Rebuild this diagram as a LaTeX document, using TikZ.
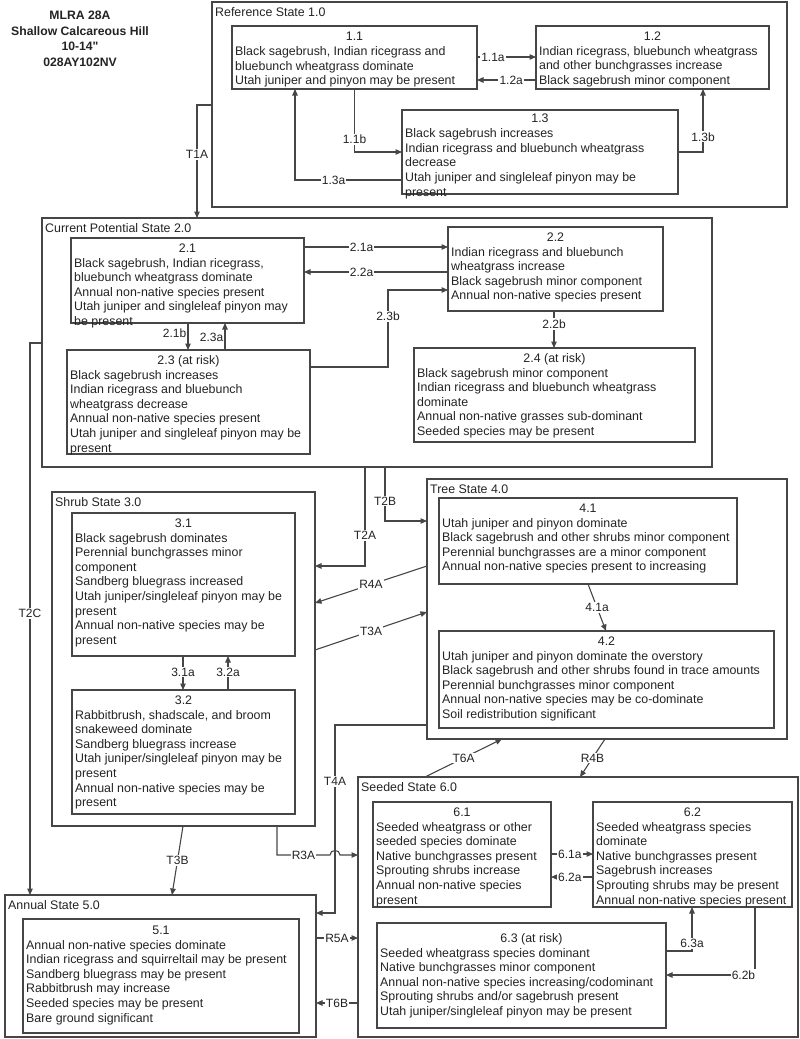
\documentclass[tikz,border=0pt]{standalone}
\usepackage{fontspec}
\setmainfont{Liberation Sans}
\newfontfamily\titlefont{Liberation Sans}
\usetikzlibrary{arrows.meta,calc}
\definecolor{ln}{RGB}{70,70,70}
\definecolor{tx}{RGB}{35,35,35}
\tikzset{
 box/.style={draw=ln, line width=1.1pt, inner sep=0pt, outer sep=0pt, rectangle},
 hdr/.style={inner sep=0pt, text=tx, font=\fontsize{12.4}{14.6}\selectfont},
 bodytxt/.style={inner sep=0pt, text=tx, align=left, font=\fontsize{12.4}{14.6}\selectfont},
 statelbl/.style={inner sep=0pt, text=tx, anchor=base west, font=\fontsize{12.4}{14.6}\selectfont},
 conn/.style={draw=ln, line width=1.1pt, -{Triangle[length=6.5pt,width=5.5pt]}},
 lab/.style={fill=white, inner sep=1.2pt, text=tx, font=\fontsize{12}{14}\selectfont},
 sidelab/.style={inner sep=1.2pt, text=tx, anchor=east, font=\fontsize{12}{14}\selectfont},
}
\newcommand\stbox[8][0]{%
  \node[box, anchor=north west, minimum width=#5-#3, minimum height=#6-#4] (#2) at (#3,#4) {};
  \node[hdr, anchor=base] (#2h) at ($(#2.north)+(0,14+#1)$) {#7};
  \node[bodytxt, anchor=north west] (#2t) at ($(#2.north west)+(3,20+#1)$) {#8};
}
\newcommand\stcont[6]{%
  \node[box, anchor=north west, minimum width=#4-#2, minimum height=#5-#3] (#1) at (#2,#3) {};
  \node[statelbl] (#1l) at ($(#1.north west)+(3,14.5)$) {#6};
}
\begin{document}
\begin{tikzpicture}[x=1pt,y=-1pt]
\useasboundingbox (0,0) rectangle (800,1039);

% title
\node[inner sep=0pt, anchor=north, align=center, text=tx, font=\titlefont\bfseries\fontsize{12.2}{15.5}\selectfont] (title) at (80,11)
 {MLRA 28A\\Shallow Calcareous Hill\\10-14"\\028AY102NV};

% state containers
\stcont{s1}{212}{2}{787}{207}{Reference State 1.0}
\stcont{s2}{42}{218}{712}{467}{Current Potential State 2.0}
\stcont{s3}{52}{492}{315}{826}{Shrub State 3.0}
\stcont{s4}{427}{479}{787}{739}{Tree State 4.0}
\stcont{s5}{5}{895}{316}{1037}{Annual State 5.0}
\stcont{s6}{358}{777}{798}{1037}{Seeded State 6.0}

% community phases
\stbox[0.5]{b11}{232}{26}{477}{89}{1.1}{Black sagebrush, Indian ricegrass and\\bluebunch wheatgrass dominate\\Utah juniper and pinyon may be present}
\stbox{b12}{536}{26}{769}{89}{1.2}{Indian ricegrass, bluebunch wheatgrass\\and other bunchgrasses increase\\Black sagebrush minor component}
\stbox[-1.5]{b13}{402}{110}{678}{194}{1.3}{Black sagebrush increases\\Indian ricegrass and bluebunch wheatgrass\\decrease\\Utah juniper and singleleaf pinyon may be\\present}

\stbox{b21}{71}{238}{304}{323}{2.1}{Black sagebrush, Indian ricegrass,\\bluebunch wheatgrass dominate\\Annual non-native species present\\Utah juniper and singleleaf pinyon may\\be present}
\stbox{b22}{448}{227}{663}{311}{2.2}{Indian ricegrass and bluebunch\\wheatgrass increase\\Black sagebrush minor component\\Annual non-native species present}
\stbox{b23}{67}{350}{310}{454}{2.3 (at risk)}{Black sagebrush increases\\Indian ricegrass and bluebunch\\wheatgrass decrease\\Annual non-native species present\\Utah juniper and singleleaf pinyon may be\\present}
\stbox{b24}{414}{348}{695}{442}{2.4 (at risk)}{Black sagebrush minor component\\Indian ricegrass and bluebunch wheatgrass\\dominate\\Annual non-native grasses sub-dominant\\Seeded species may be present}

\stbox{b31}{72}{513}{295}{656}{3.1}{Black sagebrush dominates\\Perennial bunchgrasses minor\\component\\Sandberg bluegrass increased\\Utah juniper/singleleaf pinyon may be\\present\\Annual non-native species may be\\present}
\stbox{b32}{72}{690}{295}{814}{3.2}{Rabbitbrush, shadscale, and broom\\snakeweed dominate\\Sandberg bluegrass increase\\Utah juniper/singleleaf pinyon may be\\present\\Annual non-native species may be\\present}

\stbox{b41}{439}{498}{737}{584}{4.1}{Utah juniper and pinyon dominate\\Black sagebrush and other shrubs minor component\\Perennial bunchgrasses are a minor component\\Annual non-native species present to increasing}
\stbox{b42}{439}{631}{774}{728}{4.2}{Utah juniper and pinyon dominate the overstory\\Black sagebrush and other shrubs found in trace amounts\\Perennial bunchgrasses minor component\\Annual non-native species may be co-dominate\\Soil redistribution significant}

\stbox[1]{b51}{23}{919}{299}{1033}{5.1}{Annual non-native species dominate\\Indian ricegrass and squirreltail may be present\\Sandberg bluegrass may be present\\Rabbitbrush may increase\\Seeded species may be present\\Bare ground significant}

\stbox{b61}{373}{802}{551}{907}{6.1}{Seeded wheatgrass or other\\seeded species dominate\\Native bunchgrasses present\\Sprouting shrubs increase\\Annual non-native species\\present}
\stbox{b62}{593}{802}{792}{907}{6.2}{Seeded wheatgrass species\\dominate\\Native bunchgrasses present\\Sagebrush increases\\Sprouting shrubs may be present\\Annual non-native species present}
\stbox[5]{b63}{377}{923}{666}{1028}{\hspace*{20pt}6.3 (at risk)}{Seeded wheatgrass species dominant\\Native bunchgrasses minor component\\Annual non-native species increasing/codominant\\Sprouting shrubs and/or sagebrush present\\Utah juniper/singleleaf pinyon may be present}

% ---- connectors: state 1
\draw[conn] (b11.east |- 0,57) -- node[lab,pos=0.27] (l11a) {1.1a} (b12.west |- 0,57);
\draw[conn] (b12.west |- 0,80) -- node[lab,pos=0.42] (l12a) {1.2a} (b11.east |- 0,80);
\draw[conn] (b11.south) -- node[lab,pos=0.8] (l11b) {1.1b} (b11.south |- 0,152) -- (b13.west |- 0,152);
\draw[conn] (b13.west |- 0,180) -- node[lab,pos=0.64] (l13a) {1.3a} (295,180) -- (b11.south -| 295,0);
\draw[conn] (b13.east |- 0,152) -- (703,152) -- node[lab,pos=0.24] (l13b) {1.3b} (b12.south -| 703,0);
\draw[conn] (s1.west |- 0,105) -- (197,105) -- node[lab,pos=0.44] (lT1A) {T1A} (s2.north -| 197,0);

% ---- state 2
\draw[conn] (b21.east |- 0,247) -- node[lab,pos=0.40] (l21a) {2.1a} (b22.west |- 0,247);
\draw[conn] (b22.west |- 0,272) -- node[lab,pos=0.60] (l22a) {2.2a} (b21.east |- 0,272);
\draw[conn] (b23.east |- 0,367) -- (388,367) -- node[lab,pos=0.66] (l23b) {2.3b} (388,290) -- (b22.west |- 0,290);
\draw[conn] (b21.south -| 188,0) -- node[sidelab,pos=0.37] (l21b) {2.1b} (b23.north -| 188,0);
\draw[conn] (b23.north -| 225,0) -- node[sidelab,pos=0.48] (l23a) {2.3a} (b21.south -| 225,0);
\draw[conn] (b22.south -| 554,0) -- node[lab,pos=0.35] (l22b) {2.2b} (b24.north -| 554,0);

% ---- transitions from 2
\draw[conn] (s2.west |- 0,343) -- (30,343) -- node[lab,pos=0.49] (lT2C) {T2C} (s5.north -| 30,0);
\draw[conn] (s2.south -| 365,0) -- node[lab,pos=0.69] (lT2A) {T2A} (365,566) -- (s3.east |- 0,566);
\draw[conn] (s2.south -| 385,0) -- node[lab,pos=0.63] (lT2B) {T2B} (385,521) -- (s4.west |- 0,521);

% ---- state 3 / 4
\draw[conn] (s4.west |- 0,566) -- node[lab,pos=0.5] (lR4A) {R4A} (s3.east |- 0,603);
\draw[conn] (s3.east |- 0,650) -- node[lab,pos=0.5] (lT3A) {T3A} (s4.west |- 0,612);
\draw[conn] (b31.south -| 183,0) -- node[lab,pos=0.47] (l31a) {3.1a} (b32.north -| 183,0);
\draw[conn] (b32.north -| 228,0) -- node[lab,pos=0.53] (l32a) {3.2a} (b31.south -| 228,0);
\draw[conn] (b41.south -| 588,0) -- node[lab,pos=0.5] (l41a) {4.1a} (b42.north -| 606,0);

% ---- into annual / seeded
\draw[conn] (s3.south -| 183,0) -- node[lab,pos=0.5] (lT3B) {T3B} (s5.north -| 172,0);
\draw[conn] (s4.west |- 0,725) -- (335,725) -- node[lab,pos=0.30] (lT4A) {T4A} (335,913) -- (s5.east |- 0,913);
\draw[conn] (s3.south -| 277,0) -- (277,855) -- node[lab,pos=0.5] (lR3A) {R3A} (330,855)
   .. controls (330,849) and (340,849) .. (340,855) -- (s6.west |- 0,855);
\draw[conn] (s5.east |- 0,938) -- node[lab,pos=0.5] (lR5A) {R5A} (s6.west |- 0,938);
\draw[conn] (s6.west |- 0,1003) -- node[lab,pos=0.5] (lT6B) {T6B} (s5.east |- 0,1003);
\draw[conn] (s6.north -| 425,0) -- node[lab,pos=0.5] (lT6A) {T6A} (s4.south -| 502,0);
\draw[conn] (s4.south -| 605,0) -- node[lab,pos=0.5] (lR4B) {R4B} (s6.north -| 580,0);

% ---- state 6
\draw[conn] (b61.east |- 0,854) -- node[lab,pos=0.45] (l61a) {6.1a} (b62.west |- 0,854);
\draw[conn] (b62.west |- 0,877) -- node[lab,pos=0.55] (l62a) {6.2a} (b61.east |- 0,877);
\draw[conn] (b63.east |- 0,951) -- (692,951) -- node[lab,pos=0.18] (l63a) {6.3a} (b62.south -| 692,0);
\draw[conn] (b62.south -| 755,0) -- (755,975) -- node[lab,pos=0.13] (l62b) {6.2b} (b63.east |- 0,975);
\end{tikzpicture}
\end{document}
